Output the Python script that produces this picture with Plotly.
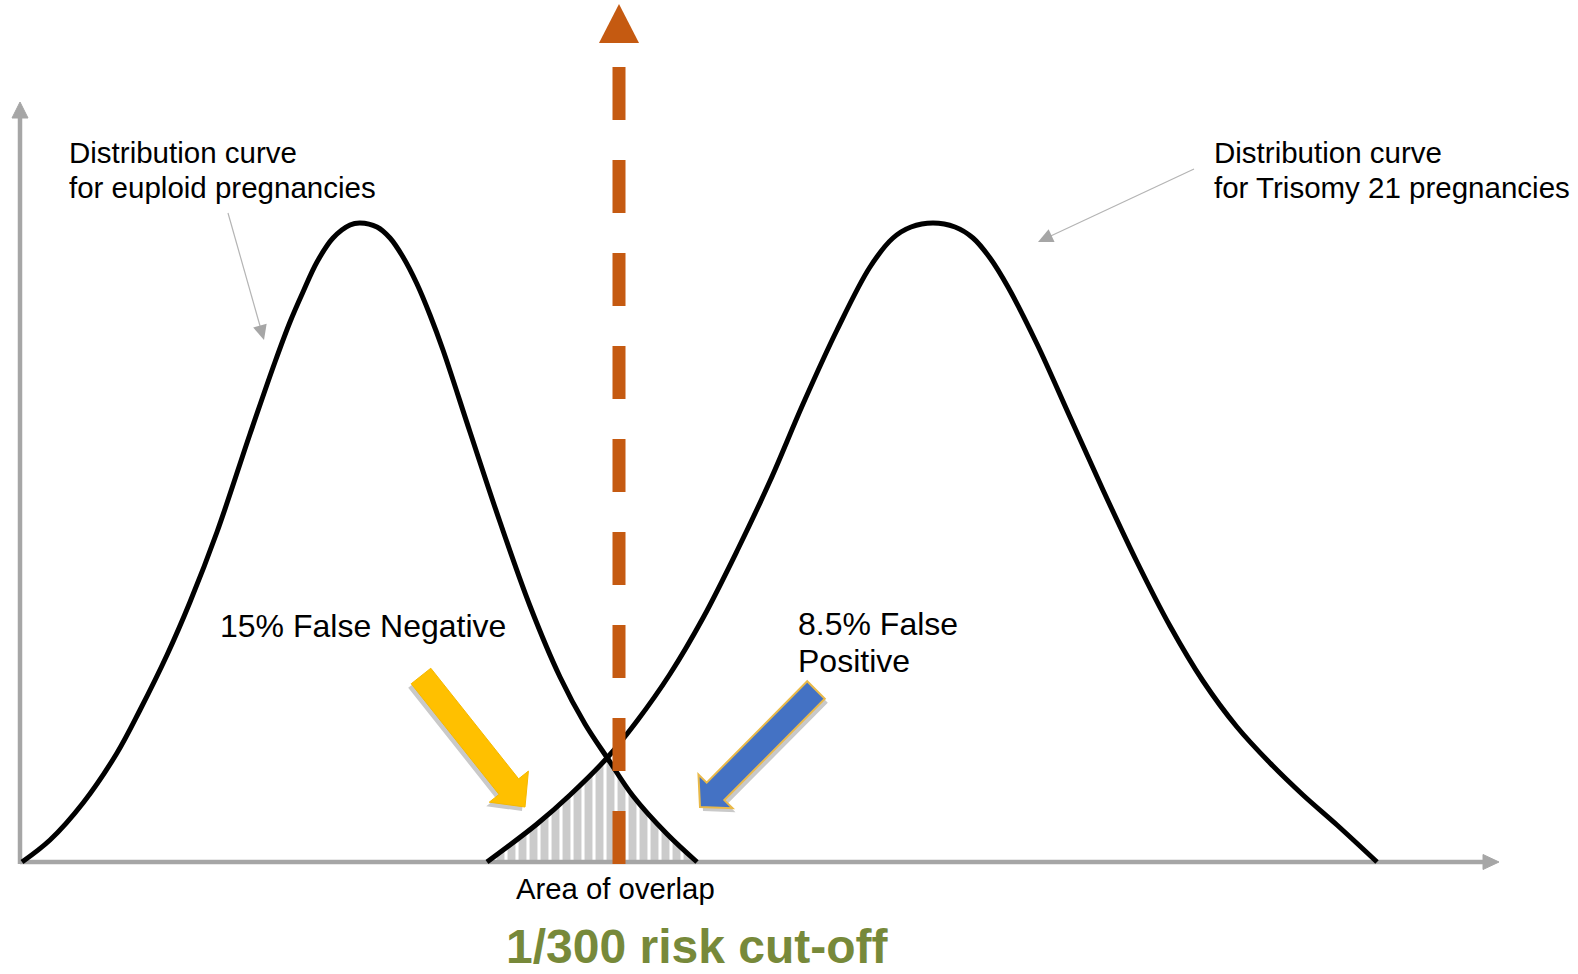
import math
import plotly.graph_objects as go

# ---------------- data ----------------
# Distribution curve for euploid pregnancies (x position, height above baseline)
euploid_x = [22, 50, 83, 117, 140, 167, 190, 217, 250, 275, 290, 303, 317, 333, 350, 360,
             377, 390, 403, 417, 430, 443, 470, 500, 530, 560, 585, 608, 633, 667, 697]
euploid_y = [0, 22, 59, 109, 152, 207, 260, 330, 428, 500, 540, 570, 600, 624, 637, 639,
             635, 624, 605, 578, 547, 512, 430, 340, 256, 185, 138, 103, 66, 28, 0]

# Distribution curve for Trisomy 21 pregnancies
t21_x = [487, 537, 570, 607, 637, 670, 703, 737, 770, 803, 837, 870, 893, 911, 933,
         955, 973, 990, 1008, 1037, 1070, 1103, 1137, 1170, 1203, 1237, 1270, 1303, 1337, 1377]
t21_y = [0, 38, 67, 104, 141, 188, 244, 311, 381, 458, 532, 595, 624, 635, 639,
         635, 624, 604, 575, 518, 445, 372, 300, 236, 181, 135, 99, 67, 37, 0]

cutoff_x = 619          # 1/300 risk cut-off position
labels = {
    "eu1": "Distribution curve",
    "eu2": "for euploid pregnancies",
    "t1": "Distribution curve",
    "t2": "for Trisomy 21 pregnancies",
    "fn": "15% False Negative",
    "fp1": "8.5% False",
    "fp2": "Positive",
    "overlap": "Area of overlap",
    "cut": "1/300 risk cut-off",
}

# ---------------- geometry helpers ----------------
W, H = 1578, 974
BASE = 862  # pixel row of the baseline (data y = 0)


def d(px, py):
    """pixel -> data coordinates"""
    return px, BASE - py


def path_from(points):
    s = ""
    for i, (px, py) in enumerate(points):
        x, y = d(px, py)
        s += ("M" if i == 0 else "L") + f"{x:.2f},{y:.2f} "
    return s + "Z"


def block_arrow(sx, sy, tx, ty, shaft_hw, head_hw, head_len):
    dx, dy = tx - sx, ty - sy
    L = math.hypot(dx, dy)
    ux, uy = dx / L, dy / L
    nx, ny = -uy, ux
    bx, by = tx - ux * head_len, ty - uy * head_len
    return [
        (sx + nx * shaft_hw, sy + ny * shaft_hw),
        (bx + nx * shaft_hw, by + ny * shaft_hw),
        (bx + nx * head_hw, by + ny * head_hw),
        (tx, ty),
        (bx - nx * head_hw, by - ny * head_hw),
        (bx - nx * shaft_hw, by - ny * shaft_hw),
        (sx - nx * shaft_hw, sy - ny * shaft_hw),
    ]


def tri_head(sx, sy, tx, ty, hw, hl):
    dx, dy = tx - sx, ty - sy
    L = math.hypot(dx, dy)
    ux, uy = dx / L, dy / L
    nx, ny = -uy, ux
    bx, by = tx - ux * hl, ty - uy * hl
    return [(tx, ty), (bx + nx * hw, by + ny * hw), (bx - nx * hw, by - ny * hw)]


GRAY = "#A6A6A6"
ORANGE = "#C55A11"
FONT = "Liberation Sans, Arial, sans-serif"

fig = go.Figure()

# hatched area of overlap (left tail of T21 up to the crossing, right tail of euploid after it)
ov = [(x, y) for x, y in zip(t21_x, t21_y) if x <= 607] + \
     [(x, y) for x, y in zip(euploid_x, euploid_y) if x >= 608]
fig.add_trace(go.Scatter(
    x=[p[0] for p in ov], y=[p[1] for p in ov], mode="lines",
    line=dict(width=0, color="rgba(0,0,0,0)"),
    fill="tozeroy",
    fillpattern=dict(shape="|", fgcolor="#979797", bgcolor="rgba(0,0,0,0)", size=11, solidity=0.72),
    hoverinfo="skip",
))

# axes (gray lines with arrow heads)
ax_lw = 4.5
fig.add_trace(go.Scatter(x=[20, 1486], y=[0, 0], mode="lines",
                         line=dict(color=GRAY, width=ax_lw), hoverinfo="skip"))
fig.add_trace(go.Scatter(x=[20, 20], y=[d(20, BASE + 2)[1], d(20, 115)[1]], mode="lines",
                         line=dict(color=GRAY, width=ax_lw), hoverinfo="skip"))
for pts in (tri_head(20, 500, 20, 102, 8, 16), tri_head(1000, BASE, 1499, BASE, 7.5, 16)):
    xs = [d(*p)[0] for p in pts] + [d(*pts[0])[0]]
    ys = [d(*p)[1] for p in pts] + [d(*pts[0])[1]]
    fig.add_trace(go.Scatter(x=xs, y=ys, mode="lines", fill="toself", fillcolor=GRAY,
                             line=dict(color=GRAY, width=1), hoverinfo="skip"))

# distribution curves
for cx, cy in ((euploid_x, euploid_y), (t21_x, t21_y)):
    fig.add_trace(go.Scatter(x=cx, y=cy, mode="lines",
                             line=dict(color="black", width=5, shape="spline", smoothing=1),
                             hoverinfo="skip"))

shapes = []
# cut-off dashed line with triangle head
shapes.append(dict(type="line", xref="x", yref="y", x0=cutoff_x, x1=cutoff_x,
                   y0=d(0, 67)[1], y1=d(0, 866)[1],
                   line=dict(color=ORANGE, width=13, dash="53px,40px"), layer="above"))
shapes.append(dict(type="path", xref="x", yref="y",
                   path=path_from([(cutoff_x, 4), (cutoff_x - 20, 43), (cutoff_x + 20, 43)]),
                   fillcolor=ORANGE, line=dict(width=0), layer="above"))

# yellow (false negative) and blue (false positive) block arrows with shadows
yellow = block_arrow(421, 676, 525, 807, 12.5, 25, 26)
blue = block_arrow(816, 690, 700, 807, 12.4, 24, 22)
shapes.append(dict(type="path", xref="x", yref="y",
                   path=path_from([(x - 3, y + 4) for x, y in yellow]),
                   fillcolor="#C9C9C9", line=dict(width=0), layer="above"))
shapes.append(dict(type="path", xref="x", yref="y",
                   path=path_from([(x + 3, y + 4) for x, y in blue]),
                   fillcolor="#C9C9C9", line=dict(width=0), layer="above"))
shapes.append(dict(type="path", xref="x", yref="y", path=path_from(yellow),
                   fillcolor="#FFC000", line=dict(color="#F5B800", width=1), layer="above"))
shapes.append(dict(type="path", xref="x", yref="y", path=path_from(blue),
                   fillcolor="#4472C4", line=dict(color="#E9B949", width=2), layer="above"))

# thin gray pointer arrows for the curve labels
for (sx, sy, tx, ty) in [(228, 213, 264, 340), (1194, 169, 1038, 242)]:
    L = math.hypot(tx - sx, ty - sy)
    ex, ey = tx - (tx - sx) / L * 14, ty - (ty - sy) / L * 14
    shapes.append(dict(type="line", xref="x", yref="y",
                       x0=d(sx, sy)[0], y0=d(sx, sy)[1], x1=d(ex, ey)[0], y1=d(ex, ey)[1],
                       line=dict(color="#B4B4B4", width=1.2), layer="above"))
    shapes.append(dict(type="path", xref="x", yref="y",
                       path=path_from(tri_head(sx, sy, tx, ty, 7, 15)),
                       fillcolor=GRAY, line=dict(width=0), layer="above"))

# text
ann = []


def text(t, px, py, size, xanchor="left", color="black", bold=False):
    x, y = d(px, py)
    ann.append(dict(x=x, y=y, xref="x", yref="y", text=(f"<b>{t}</b>" if bold else t),
                    showarrow=False, xanchor=xanchor, yanchor="middle",
                    font=dict(family=FONT, size=size, color=color)))


text(labels["eu1"], 67, 152, 29.5)
text(labels["eu2"], 67, 187, 29.5)
text(labels["t1"], 1212, 152, 29.5)
text(labels["t2"], 1212, 187, 29.5)
text(labels["fn"], 218, 626, 32)
text(labels["fp1"], 796, 624, 32)
text(labels["fp2"], 796, 661, 32)
text(labels["overlap"], 615, 888, 29.3, xanchor="center")
text(labels["cut"], 697, 946, 48, xanchor="center", color="#77893A", bold=True)

fig.update_layout(
    width=W, height=H,
    margin=dict(l=0, r=0, t=0, b=0),
    paper_bgcolor="white", plot_bgcolor="white",
    showlegend=False, hovermode=False,
    xaxis=dict(range=[0, W], visible=False, fixedrange=True),
    yaxis=dict(range=[BASE - H, BASE], visible=False, fixedrange=True),
    shapes=shapes, annotations=ann,
)

fig.write_html("out.html", config={"displayModeBar": False},
               post_script="document.body.style.margin='0px';")
